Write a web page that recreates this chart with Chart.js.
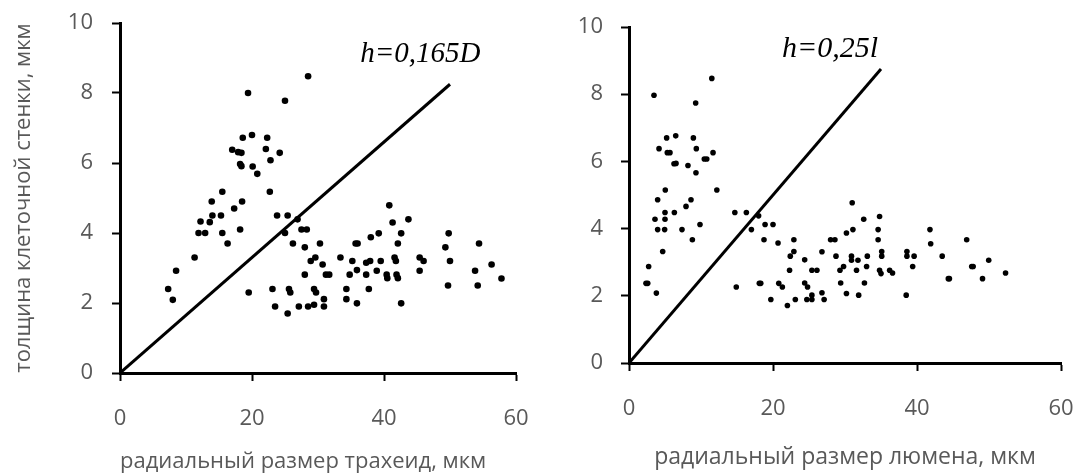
<!DOCTYPE html>
<html lang="ru">
<head>
<meta charset="utf-8">
<title>Толщина клеточной стенки</title>
<script src="https://cdn.jsdelivr.net/npm/chart.js@4.4.1/dist/chart.umd.min.js"></script>
<style>
  html, body { margin: 0; padding: 0; background: #fff; }
  #wrap { position: relative; width: 1076px; height: 473px; overflow: hidden; }
  #leftChart { position: absolute; left: 0; top: 0; }
  #rightChart { position: absolute; left: 540px; top: 0; }
</style>
</head>
<body>
<div id="wrap">
  <canvas id="leftChart" width="540" height="473"></canvas>
  <canvas id="rightChart" width="536" height="473"></canvas>
</div>
<script>
// Data: [radial size, wall thickness], мкм
const tracheidPoints = [
    [19.4, 8.0], [25.0, 7.78], [28.5, 8.48], [18.6, 6.72], [20.0, 6.8], [22.3, 6.72],
    [17.0, 6.38], [17.9, 6.31], [18.4, 6.29], [22.1, 6.4], [24.2, 6.29], [18.2, 5.97],
    [18.4, 5.91], [20.1, 5.9], [20.8, 5.69], [22.8, 6.08], [15.5, 5.18], [22.7, 5.18],
    [13.9, 4.9], [18.5, 4.9], [17.3, 4.7], [14.0, 4.5], [15.3, 4.5], [23.8, 4.5],
    [25.4, 4.5], [12.2, 4.33], [13.6, 4.31], [11.9, 4.0], [12.9, 4.0], [15.5, 4.0],
    [18.2, 4.1], [16.3, 3.7], [25.0, 4.0], [26.2, 3.7], [11.3, 3.3], [8.5, 2.92],
    [7.3, 2.4], [8.0, 2.09], [19.5, 2.3], [23.1, 2.4], [25.6, 2.4], [25.8, 2.3],
    [23.5, 1.9], [25.4, 1.7], [27.1, 1.9], [26.9, 4.39], [27.5, 4.1], [28.3, 4.1],
    [28.0, 3.59], [30.3, 3.7], [28.9, 3.2], [29.6, 3.3], [30.7, 3.1], [28.0, 2.81],
    [31.2, 2.81], [31.7, 2.81], [29.4, 2.4], [29.7, 2.3], [28.5, 1.9], [29.4, 1.95],
    [30.9, 2.11], [30.9, 1.9], [33.4, 3.3], [35.2, 3.2], [35.7, 3.7], [36.0, 3.7],
    [35.9, 2.94], [34.8, 2.81], [34.3, 2.4], [34.3, 2.11], [35.9, 1.99], [37.3, 3.15],
    [37.9, 3.2], [37.3, 2.81], [38.9, 2.92], [37.7, 2.4], [38.0, 3.88], [39.2, 3.99],
    [39.5, 3.2], [40.8, 4.79], [41.3, 4.3], [43.7, 4.39], [42.6, 3.99], [42.1, 3.7],
    [41.6, 3.3], [41.8, 3.2], [40.4, 2.81], [40.5, 2.71], [41.9, 2.81], [42.1, 2.71],
    [42.6, 1.99], [45.4, 3.3], [46.0, 3.2], [45.4, 2.92], [49.8, 3.99], [49.3, 3.59],
    [50.0, 3.2], [49.7, 2.5], [54.4, 3.7], [53.8, 2.92], [54.2, 2.5], [56.3, 3.1],
    [57.8, 2.7]
];

const lumenPoints = [
    [3.47, 7.97], [11.5, 8.47], [9.26, 7.74], [5.23, 6.70], [6.49, 6.76], [8.94, 6.70],
    [4.17, 6.38], [5.32, 6.26], [5.69, 6.26], [9.35, 6.38], [11.67, 6.26], [6.25, 5.93],
    [6.53, 5.94], [8.19, 5.88], [9.3, 5.66], [10.46, 6.07], [10.8, 6.07], [5.04, 5.15],
    [12.2, 5.15], [3.98, 4.86], [8.61, 4.86], [7.92, 4.66], [3.61, 4.28], [5.0, 4.48],
    [5.0, 4.28], [6.3, 4.48], [3.98, 3.97], [4.95, 3.97], [7.36, 3.97], [9.86, 4.12],
    [8.8, 3.67], [4.68, 3.32], [2.73, 2.87], [2.36, 2.37], [2.6, 2.37], [3.8, 2.08],
    [14.7, 4.48], [16.3, 4.48], [18.0, 4.38], [17.0, 3.97], [18.9, 4.12], [20.0, 4.12],
    [18.75, 3.67], [20.7, 3.57], [22.9, 3.67], [22.9, 3.32], [22.4, 3.18], [22.3, 2.76],
    [14.9, 2.26], [18.1, 2.37], [18.3, 2.37], [20.8, 2.37], [21.3, 2.26], [19.7, 1.89],
    [22.0, 1.71], [23.1, 1.89], [31.0, 4.77], [32.6, 4.28], [34.8, 4.36], [30.2, 3.87],
    [31.1, 3.97], [34.6, 3.97], [34.6, 3.67], [28.0, 3.67], [28.6, 3.67], [26.8, 3.31],
    [28.75, 3.18], [24.4, 3.07], [30.9, 3.18], [30.9, 3.06], [31.8, 3.06], [33.1, 3.18],
    [35.1, 3.32], [35.1, 3.18], [33.0, 2.87], [31.6, 2.76], [29.3, 2.76], [29.8, 2.87],
    [25.4, 2.76], [26.1, 2.76], [34.8, 2.76], [35.0, 2.66], [36.2, 2.76], [36.6, 2.68],
    [38.6, 3.32], [38.6, 3.18], [39.6, 3.18], [39.4, 2.87], [38.5, 2.02], [29.4, 2.38],
    [32.7, 2.38], [30.2, 2.07], [31.9, 2.02], [24.4, 2.38], [24.8, 2.26], [25.4, 2.02],
    [25.4, 1.89], [24.7, 1.89], [26.8, 2.09], [27.1, 1.89], [41.8, 3.97], [41.9, 3.55],
    [43.5, 3.18], [44.35, 2.51], [44.5, 2.51], [46.9, 3.67], [47.6, 2.87], [47.8, 2.87],
    [49.1, 2.51], [49.96, 3.06], [52.3, 2.68]
];

// Reference lines h = 0,165D and h = 0,25l (end points as drawn)
const tracheidLine = [[0, 0], [50, 8.25]];
const lumenLine = [[0, 0], [35, 8.75]];

const xTicks = [0, 20, 40, 60];
const yTicks = [0, 2, 4, 6, 8, 10];

const FONT = '"Open Sans", "DejaVu Sans", sans-serif';
const GRAY = '#595959';

// Draws the italic equation text next to the line
const equationLabel = {
    id: 'equationLabel',
    afterDatasetsDraw(chart, args, opts) {
        if (!opts.text) return;
        const { ctx, scales } = chart;
        ctx.save();
        ctx.font = opts.font;
        ctx.fillStyle = '#000';
        ctx.textBaseline = 'alphabetic';
        ctx.fillText(opts.text, scales.x.getPixelForValue(opts.x), scales.y.getPixelForValue(opts.y));
        ctx.restore();
    }
};

function toXY(list) {
    return list.map(p => ({ x: p[0], y: p[1] }));
}

function createChart(canvasId, points, line, cfg) {
    const ctx = document.getElementById(canvasId);
    return new Chart(ctx, {
        type: 'scatter',
        data: {
            datasets: [
                {
                    data: toXY(line),
                    showLine: true,
                    borderColor: '#000',
                    borderWidth: 3,
                    pointRadius: 0,
                    fill: false
                },
                {
                    data: toXY(points),
                    backgroundColor: '#000',
                    borderColor: '#000',
                    borderWidth: 0,
                    pointRadius: cfg.dot,
                    pointHoverRadius: cfg.dot
                }
            ]
        },
        options: {
            responsive: false,
            animation: false,
            events: [],
            layout: {
                padding: { top: cfg.top, right: cfg.right, left: 0, bottom: 0 }
            },
            plugins: {
                legend: { display: false },
                tooltip: { enabled: false },
                equationLabel: cfg.label
            },
            scales: {
                x: {
                    type: 'linear',
                    min: xTicks[0],
                    max: xTicks[xTicks.length - 1],
                    // fixed box so the plot area lands where the original one is
                    afterFit: s => {
                        s.height = cfg.xHeight;
                        s.paddingLeft = 0;
                        s.paddingRight = 0;
                    },
                    afterBuildTicks: s => { s.ticks = xTicks.map(v => ({ value: v })); },
                    ticks: { padding: cfg.xPad, color: GRAY, font: { family: FONT, size: 22 } },
                    grid: { drawOnChartArea: false, tickLength: 8, tickWidth: 2, tickColor: '#000' },
                    border: { color: '#000', width: 3 },
                    title: {
                        display: true,
                        text: cfg.xTitle,
                        align: cfg.xTitleAlign,
                        color: GRAY,
                        font: { family: FONT, size: cfg.xTitleSize, lineHeight: 1 },
                        padding: { top: 0, bottom: cfg.xTitlePad }
                    }
                },
                y: {
                    type: 'linear',
                    min: yTicks[0],
                    max: yTicks[yTicks.length - 1],
                    afterFit: s => {
                        s.width = cfg.yWidth;
                        s.paddingTop = 0;
                        s.paddingBottom = 0;
                    },
                    afterBuildTicks: s => { s.ticks = yTicks.map(v => ({ value: v })); },
                    ticks: { padding: cfg.yPad, color: GRAY, font: { family: FONT, size: 22 } },
                    grid: { drawOnChartArea: false, tickLength: 8, tickWidth: 2, tickColor: '#000' },
                    border: { color: '#000', width: 3 },
                    title: {
                        display: !!cfg.yTitle,
                        text: cfg.yTitle || '',
                        color: GRAY,
                        font: { family: FONT, size: 22, lineHeight: 1 },
                        padding: { top: 13, bottom: 0 }
                    }
                }
            }
        },
        plugins: [equationLabel]
    });
}

createChart('leftChart', tracheidPoints, tracheidLine, {
    top: 23, right: 24, xHeight: 100, yWidth: 120,
    xPad: 25, yPad: 19, xTitlePad: 0, xTitleAlign: 'start', xTitleSize: 22, dot: 3.3,
    xTitle: 'радиальный размер трахеид, мкм',
    yTitle: 'толщина клеточной стенки, мкм',
    label: { text: 'h=0,165D', x: 36.4, y: 8.89, font: 'italic 29px "Liberation Serif", serif' }
});

createChart('rightChart', lumenPoints, lumenLine, {
    top: 27, right: 15, xHeight: 110, yWidth: 89,
    xPad: 25, yPad: 18, xTitlePad: 4, xTitleAlign: 'center', xTitleSize: 23, dot: 2.8,
    xTitle: 'радиальный размер люмена, мкм',
    label: { text: 'h=0,25l', x: 21.25, y: 9.11, font: 'italic 30px "Liberation Serif", serif' }
});
</script>
</body>
</html>
